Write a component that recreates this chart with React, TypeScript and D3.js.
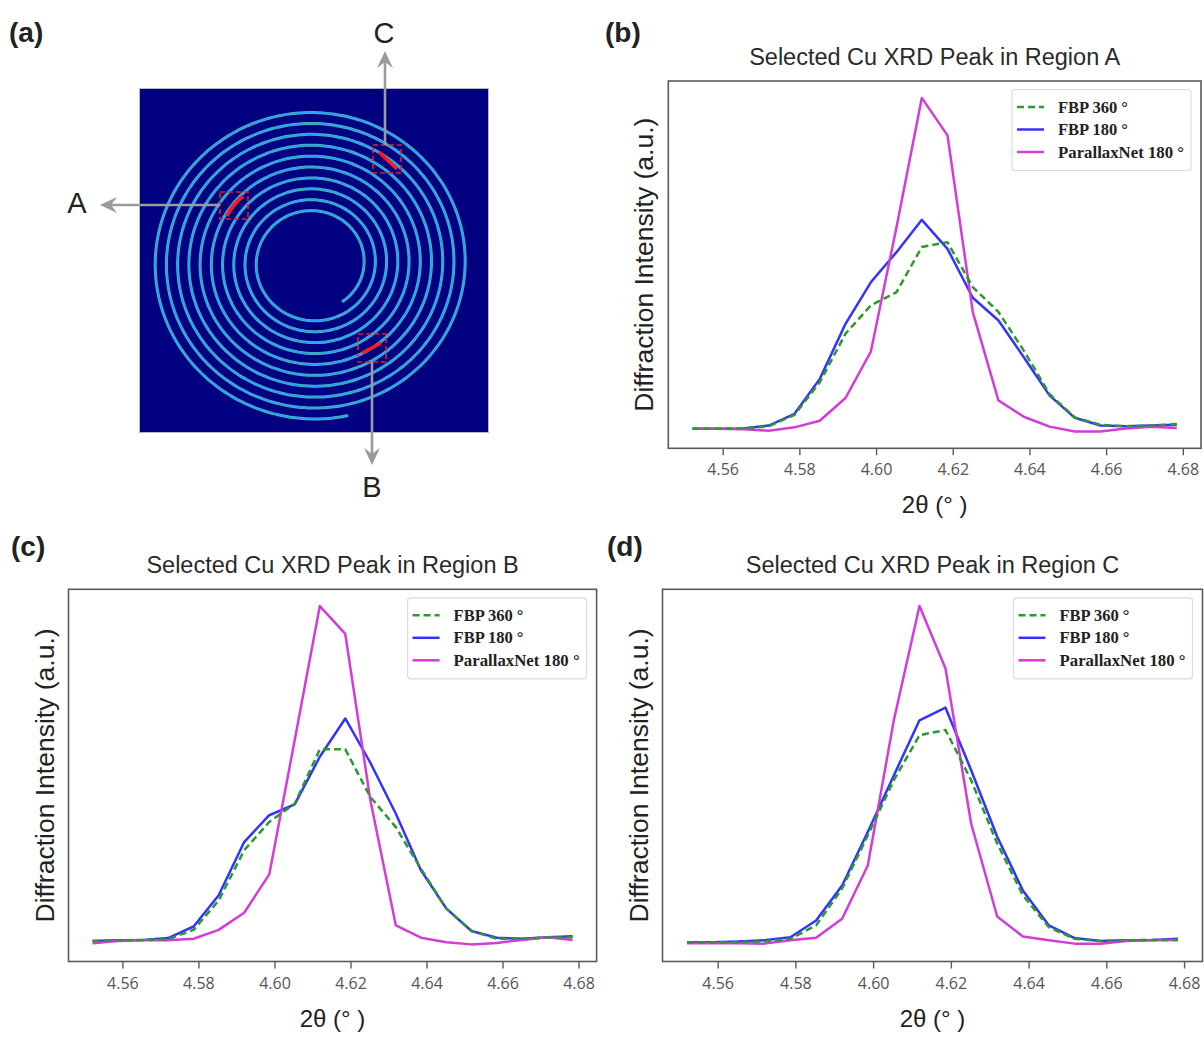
import React from "react";
import * as d3 from "d3";

// ---------- data ----------
const twoTheta = [
  4.552, 4.5586, 4.5653, 4.5719, 4.5786, 4.5852, 4.5919, 4.5985, 4.6052, 4.6118,
  4.6185, 4.6251, 4.6318, 4.6384, 4.6451, 4.6517, 4.6584, 4.665, 4.6717, 4.6783,
];
const xTicks = [4.56, 4.58, 4.6, 4.62, 4.64, 4.66, 4.68];
const seriesNames = ["FBP 360 °", "FBP 180 °", "ParallaxNet 180 °"];

// Region A
const regionA_fbp360 = [5.3, 5.3, 5.4, 6.0, 9.1, 18.0, 31.2, 38.9, 42.5, 54.8, 56.1, 43.9, 37.1, 26.6, 14.8, 8.4, 6.4, 6.0, 6.2, 6.6];
const regionA_fbp180 = [5.3, 5.3, 5.4, 6.2, 9.4, 18.9, 33.9, 45.2, 53.4, 62.2, 54.3, 41.0, 34.8, 24.8, 14.4, 8.3, 6.2, 6.0, 6.2, 6.4];
const regionA_pnet = [5.3, 5.3, 5.2, 4.8, 5.7, 7.5, 13.7, 26.3, 60.2, 95.4, 85.2, 37.1, 13.0, 8.6, 5.9, 4.6, 4.6, 5.4, 5.9, 5.5];

// Region B
const regionB_fbp360 = [5.5, 5.7, 5.8, 6.0, 8.5, 16.4, 29.9, 37.5, 42.4, 57.0, 57.0, 44.2, 36.1, 24.9, 14.2, 8.2, 6.1, 6.1, 6.5, 6.5];
const regionB_fbp180 = [5.5, 5.7, 5.8, 6.3, 9.4, 17.8, 32.1, 39.3, 42.2, 55.0, 65.3, 53.4, 39.7, 24.5, 14.2, 8.2, 6.4, 6.1, 6.5, 6.8];
const regionB_pnet = [4.9, 5.5, 5.7, 5.7, 6.1, 8.5, 13.1, 23.4, 59.5, 95.5, 88.0, 43.3, 9.7, 6.4, 5.2, 4.6, 5.0, 5.8, 6.5, 5.8];

// Region C
const regionC_fbp360 = [5.2, 5.2, 5.2, 5.4, 6.1, 9.7, 19.6, 33.9, 48.7, 60.8, 62.2, 48.7, 31.7, 17.8, 9.2, 6.1, 5.5, 5.7, 5.8, 5.8];
const regionC_fbp180 = [5.2, 5.2, 5.4, 5.7, 6.5, 11.0, 20.4, 34.8, 50.0, 64.8, 68.2, 51.4, 33.5, 19.1, 9.7, 6.3, 5.5, 5.7, 5.8, 6.1];
const regionC_pnet = [4.9, 4.9, 4.9, 4.8, 5.7, 6.4, 11.5, 25.8, 64.8, 95.5, 78.7, 37.0, 12.1, 6.7, 5.7, 4.8, 4.8, 5.5, 5.7, 5.8];

const seriesColors = ["#2a9a2a", "#3333ff", "#d23cd8"];

// ---------- layout ----------
const W = 1204;
const H = 1045;
const SANS = "'Liberation Sans', Arial, sans-serif";
const TICKFONT = "'Open Sans', 'DejaVu Sans', sans-serif";
const SERIF = "'Liberation Serif', 'DejaVu Serif', serif";

type PanelCfg = {
  title: string;
  series: number[][];
  left: number;
  right: number;
  top: number;
  bottom: number;
};

const panels: PanelCfg[] = [
  { title: "Selected Cu XRD Peak in Region A", series: [regionA_fbp360, regionA_fbp180, regionA_pnet], left: 668.3, right: 1201, top: 81, bottom: 448.3 },
  { title: "Selected Cu XRD Peak in Region B", series: [regionB_fbp360, regionB_fbp180, regionB_pnet], left: 68.5, right: 596.6, top: 589.3, bottom: 961.5 },
  { title: "Selected Cu XRD Peak in Region C", series: [regionC_fbp360, regionC_fbp180, regionC_pnet], left: 662.5, right: 1202.5, top: 589.3, bottom: 961.5 },
];

function Panel({ cfg }: { cfg: PanelCfg }) {
  const [xmin, xmax] = d3.extent(twoTheta) as [number, number];
  const pad = (xmax - xmin) * 0.05;
  const x = d3.scaleLinear().domain([xmin - pad, xmax + pad]).range([cfg.left, cfg.right]);
  const y = d3.scaleLinear().domain([0, 100]).range([cfg.bottom, cfg.top]);
  const line = d3
    .line<number>()
    .x((_, i) => x(twoTheta[i]))
    .y((d) => y(d));
  const cx = (cfg.left + cfg.right) / 2;
  const cy = (cfg.top + cfg.bottom) / 2;
  const lgX = cfg.right - 189;
  const lgY = cfg.top + 8.5;
  const drawOrder = [1, 2, 0];
  return (
    <g>
      <text x={cx} y={cfg.top - 16} textAnchor="middle" fontFamily={SANS} fontSize={23.5} fill="#2a2a2a">
        {cfg.title}
      </text>
      {drawOrder.map((k) => (
        <path
          key={k}
          d={line(cfg.series[k]) || ""}
          fill="none"
          stroke={seriesColors[k]}
          strokeWidth={2.5}
          strokeDasharray={k === 0 ? "7,4" : undefined}
          strokeLinejoin="round"
        />
      ))}
      <rect x={cfg.left} y={cfg.top} width={cfg.right - cfg.left} height={cfg.bottom - cfg.top} fill="none" stroke="#5a5a5a" strokeWidth={1.6} />
      {xTicks.map((t) => (
        <g key={t}>
          <line x1={x(t)} x2={x(t)} y1={cfg.bottom} y2={cfg.bottom + 7} stroke="#5a5a5a" strokeWidth={1.4} />
          <text x={x(t)} y={cfg.bottom + 27} textAnchor="middle" fontFamily={TICKFONT} fontSize={16} fill="#555">
            {t.toFixed(2)}
          </text>
        </g>
      ))}
      <text x={cx} y={cfg.bottom + 65} textAnchor="middle" fontFamily={SANS} fontSize={24} fill="#222">
        2θ (° )
      </text>
      <text
        transform={`translate(${cfg.left - 15},${cy}) rotate(-90)`}
        textAnchor="middle"
        fontFamily={SANS}
        fontSize={26.5}
        fill="#222"
      >
        Diffraction Intensity (a.u.)
      </text>
      <rect x={lgX} y={lgY} width={179} height={81} rx={3} fill="#fff" stroke="#dcdcdc" strokeWidth={1.2} />
      {seriesNames.map((n, k) => {
        const ry = lgY + 17.5 + k * 22.5;
        return (
          <g key={n}>
            <line
              x1={lgX + 5}
              x2={lgX + 32}
              y1={ry}
              y2={ry}
              stroke={seriesColors[k]}
              strokeWidth={2.5}
              strokeDasharray={k === 0 ? "7,4" : undefined}
            />
            <text
              x={lgX + 46}
              y={ry + 5.5}
              fontFamily={SERIF}
              fontWeight="bold"
              fontSize={16.5}
              fill="#222"
              textLength={k === 2 ? 126 : undefined}
              lengthAdjust="spacingAndGlyphs"
            >
              {n}
            </text>
          </g>
        );
      })}
    </g>
  );
}

function Arrow({ x1, y1, x2, y2 }: { x1: number; y1: number; x2: number; y2: number }) {
  const ang = Math.atan2(y2 - y1, x2 - x1);
  const L = 17;
  const wid = 8;
  const bx = x2 - Math.cos(ang) * L;
  const by = y2 - Math.sin(ang) * L;
  const nx = -Math.sin(ang);
  const ny = Math.cos(ang);
  const notchX = x2 - Math.cos(ang) * L * 0.65;
  const notchY = y2 - Math.sin(ang) * L * 0.65;
  const pts = [
    [x2, y2],
    [bx + nx * wid, by + ny * wid],
    [notchX, notchY],
    [bx - nx * wid, by - ny * wid],
  ];
  return (
    <g>
      <line x1={x1} y1={y1} x2={notchX} y2={notchY} stroke="#9b9b9b" strokeWidth={2.6} />
      <polygon points={pts.map((p) => p.join(",")).join(" ")} fill="#9b9b9b" />
    </g>
  );
}

function SpiralImage() {
  const cx = 313;
  const cy = 263;
  const r0 = 48;
  const pitch = 10.9;
  const turns = 9.94;
  const a0 = (54 * Math.PI) / 180;
  const pts: [number, number][] = [];
  for (let t = 0; t <= turns; t += 0.005) {
    const a = a0 - t * 2 * Math.PI;
    const r = r0 + pitch * t;
    pts.push([cx + r * Math.cos(a) * 1.03, cy + r * Math.sin(a)]);
  }
  const d = d3.line().curve(d3.curveCatmullRom)(pts) || "";
  return (
    <g>
      <rect x={139.5} y={88.5} width={349} height={344} fill="#000080" stroke="#b8b8c8" strokeWidth={1} />
      <path d={d} fill="none" stroke="#58d8b4" strokeWidth={3.0} opacity={0.85} />
      <path d={d} fill="none" stroke="#2d9cff" strokeWidth={1.7} />
      {/* boxes */}
      <path d="M227,216 Q233,204 243,196" fill="none" stroke="#ff1a1a" strokeWidth={3.6} />
      <rect x={220} y={192} width={28} height={27} fill="none" stroke="#e52020" strokeWidth={1.6} strokeDasharray="5,3" />
      <path d="M379,152 L397,169" fill="none" stroke="#ff1a1a" strokeWidth={3.6} />
      <rect x={373} y={145} width={28} height={28} fill="none" stroke="#e52020" strokeWidth={1.6} strokeDasharray="5,3" />
      <path d="M362,353 L381,343" fill="none" stroke="#ff1a1a" strokeWidth={3.6} />
      <rect x={358} y={334} width={28} height={28} fill="none" stroke="#e52020" strokeWidth={1.6} strokeDasharray="5,3" />
      {/* arrows */}
      <Arrow x1={220} y1={205} x2={100} y2={205} />
      <Arrow x1={385} y1={145} x2={385} y2={51} />
      <Arrow x1={372} y1={362} x2={372} y2={465} />
      <text x={77} y={213} textAnchor="middle" fontFamily={SANS} fontSize={29} fill="#222">A</text>
      <text x={384} y={43} textAnchor="middle" fontFamily={SANS} fontSize={29} fill="#222">C</text>
      <text x={372} y={497} textAnchor="middle" fontFamily={SANS} fontSize={29} fill="#222">B</text>
    </g>
  );
}

export default function App() {
  return (
    <svg
      width={W}
      height={H}
      viewBox={`0 0 ${W} ${H}`}
      style={{ position: "absolute", left: 0, top: 0, background: "#fff" }}
    >
      <rect x={0} y={0} width={W} height={H} fill="#fff" />
      <text x={9} y={42} fontFamily={SANS} fontWeight="bold" fontSize={28} fill="#222">(a)</text>
      <text x={605} y={42} fontFamily={SANS} fontWeight="bold" fontSize={28} fill="#222">(b)</text>
      <text x={11} y={556} fontFamily={SANS} fontWeight="bold" fontSize={28} fill="#222">(c)</text>
      <text x={607} y={556} fontFamily={SANS} fontWeight="bold" fontSize={28} fill="#222">(d)</text>
      <SpiralImage />
      {panels.map((p) => (
        <Panel key={p.title} cfg={p} />
      ))}
    </svg>
  );
}
